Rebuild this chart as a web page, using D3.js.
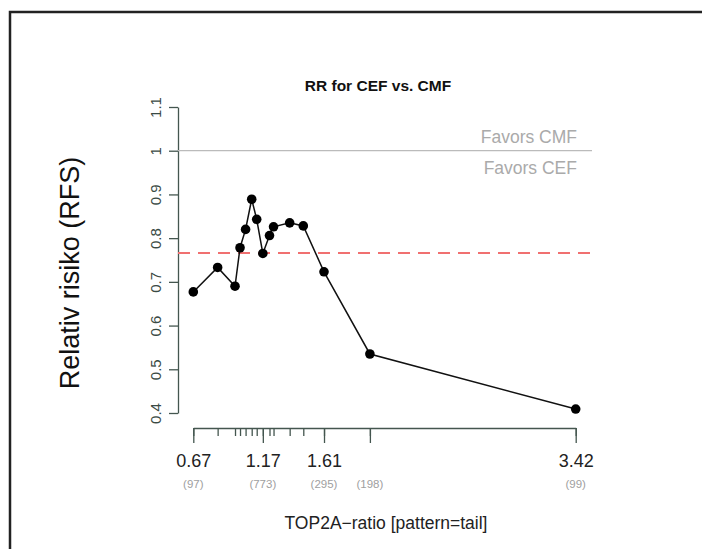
<!DOCTYPE html>
<html>
<head>
<meta charset="utf-8">
<title>RR for CEF vs. CMF</title>
<script src="https://d3js.org/d3.v7.min.js"></script>
<style>
    body { margin: 0; background: #fff; }
    svg { font-family: "Liberation Sans", Arial, sans-serif; display: block; }
</style>
</head>
<body>
<div id="chart"></div>
<script>
    // cut-offs on the TOP2A ratio and the relative risk at each
    const cutoffs = [0.67, 0.845, 0.97, 1.006, 1.046, 1.09, 1.126, 1.17, 1.218, 1.247, 1.363, 1.461, 1.61, 1.94, 3.42];
    const riskVals = [0.677, 0.733, 0.690, 0.778, 0.820, 0.889, 0.843, 0.765, 0.806, 0.826, 0.835, 0.828, 0.723, 0.535, 0.409];
    const majorTicks = [0.67, 1.17, 1.61, 1.94, 3.42];
    const majorLabels = ["0.67", "1.17", "1.61", "", "3.42"];
    const countLabels = ["(97)", "(773)", "(295)", "(198)", "(99)"];
    const yTicks = [0.4, 0.5, 0.6, 0.7, 0.8, 0.9, 1, 1.1];
    const overallRR = 0.766;

    const W = 702, H = 549;
    const axisColor = "#44564f";
    const fontFam = "'Liberation Sans', Arial, sans-serif";

    const svg = d3.select("#chart").append("svg")
        .attr("width", W)
        .attr("height", H);

    // outer frame (runs off the right and bottom edges)
    svg.append("rect")
        .attr("x", 10).attr("y", 12)
        .attr("width", 720).attr("height", 560)
        .attr("fill", "none")
        .attr("stroke", "#222")
        .attr("stroke-width", 2.5);

    const x = d3.scaleLinear().domain([0.67, 3.42]).range([193.3, 575.7]);
    const y = d3.scaleLinear().domain([0.4, 1.1]).range([413, 107]);

    // title
    svg.append("text")
        .attr("x", 378).attr("y", 91)
        .attr("text-anchor", "middle")
        .style("font-size", "15.5px")
        .style("font-weight", "bold")
        .attr("fill", "#111")
        .text("RR for CEF vs. CMF");

    // y axis
    const yAxis = svg.append("g")
        .attr("transform", "translate(178,0)")
        .call(d3.axisLeft(y).tickValues(yTicks).tickSize(9).tickSizeOuter(0)
            .tickFormat(d => String(+d.toFixed(1))))
        .attr("font-family", fontFam);
    yAxis.select(".domain").attr("stroke", axisColor).attr("stroke-width", 1.3);
    yAxis.selectAll(".tick line").attr("stroke", axisColor).attr("stroke-width", 1.3);
    yAxis.selectAll(".tick text")
        .attr("x", 0).attr("y", 0).attr("dy", 0)
        .attr("text-anchor", "middle")
        .attr("transform", "translate(-17,0) rotate(-90)")
        .attr("fill", "#3a4a44")
        .style("font-size", "15px");

    svg.append("text")
        .attr("transform", "translate(79,273) rotate(-90)")
        .attr("text-anchor", "middle")
        .style("font-size", "27px")
        .attr("fill", "#111")
        .text("Relativ risiko (RFS)");

    // reference line at RR = 1
    svg.append("line")
        .attr("x1", 178).attr("x2", 592)
        .attr("y1", y(1)).attr("y2", y(1))
        .attr("stroke", "#bbb").attr("stroke-width", 1.2);

    svg.append("text")
        .attr("x", 577).attr("y", 143)
        .attr("text-anchor", "end")
        .style("font-size", "17.5px")
        .attr("fill", "#aaa")
        .text("Favors CMF");
    svg.append("text")
        .attr("x", 577).attr("y", 174)
        .attr("text-anchor", "end")
        .style("font-size", "17.5px")
        .attr("fill", "#aaa")
        .text("Favors CEF");

    // overall RR
    svg.append("line")
        .attr("x1", 178).attr("x2", 592)
        .attr("y1", y(overallRR)).attr("y2", y(overallRR))
        .attr("stroke", "#f07070").attr("stroke-width", 2)
        .attr("stroke-dasharray", "12,8");

    // x axis: minor ticks at every cut-off, longer ticks at labelled ones
    const xMinor = svg.append("g")
        .attr("transform", "translate(0,428)")
        .call(d3.axisBottom(x).tickValues(cutoffs).tickSize(8).tickSizeOuter(0).tickFormat(""));
    xMinor.select(".domain").attr("stroke", axisColor).attr("stroke-width", 1.3);
    xMinor.selectAll(".tick line").attr("stroke", axisColor).attr("stroke-width", 1.3);

    const xMajor = svg.append("g")
        .attr("transform", "translate(0,428)")
        .call(d3.axisBottom(x).tickValues(majorTicks).tickSize(15).tickSizeOuter(0).tickPadding(11)
            .tickFormat((d, i) => majorLabels[i]))
        .attr("font-family", fontFam);
    xMajor.select(".domain").remove();
    xMajor.selectAll(".tick line").attr("stroke", axisColor).attr("stroke-width", 1.3);
    xMajor.selectAll(".tick text").attr("fill", "#222").style("font-size", "18px");

    svg.append("g").selectAll("text")
        .data(majorTicks)
        .join("text")
        .attr("x", d => x(d))
        .attr("y", 488)
        .attr("text-anchor", "middle")
        .style("font-size", "11.5px")
        .attr("fill", "#a0a0a0")
        .text((d, i) => countLabels[i]);

    svg.append("text")
        .attr("x", 386).attr("y", 529)
        .attr("text-anchor", "middle")
        .style("font-size", "17.5px")
        .attr("fill", "#222")
        .text("TOP2A\u2212ratio [pattern=tail]");

    // curve
    const pts = cutoffs.map((c, i) => [c, riskVals[i]]);
    svg.append("path")
        .datum(pts)
        .attr("fill", "none")
        .attr("stroke", "#111")
        .attr("stroke-width", 1.5)
        .attr("d", d3.line().x(d => x(d[0])).y(d => y(d[1])));

    svg.append("g").selectAll("circle")
        .data(pts)
        .join("circle")
        .attr("cx", d => x(d[0]))
        .attr("cy", d => y(d[1]))
        .attr("r", 4.8)
        .attr("fill", "#000");
</script>
</body>
</html>
